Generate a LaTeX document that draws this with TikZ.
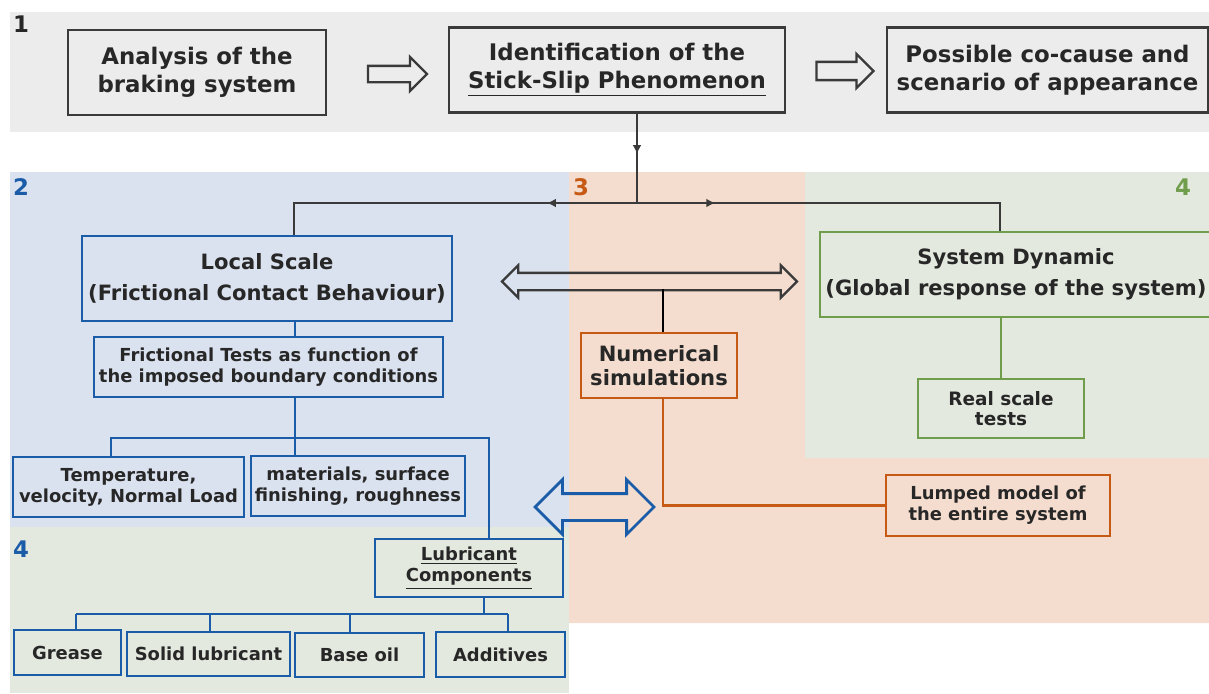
\documentclass[tikz,border=0pt]{standalone}
\usepackage{fontspec}
\setmainfont{DejaVu Sans}
\usetikzlibrary{shapes.arrows,arrows.meta,decorations.markings}
\definecolor{txt}{HTML}{272727}
\definecolor{boxgray}{HTML}{3A3A3A}
\definecolor{bluec}{HTML}{1B5CA8}
\definecolor{orangec}{HTML}{C65A14}
\definecolor{greenc}{HTML}{6F9D4C}
\definecolor{panelgray}{HTML}{ECECEC}
\definecolor{panelblue}{HTML}{DBE2EF}
\definecolor{panelorange}{HTML}{F4DDCE}
\definecolor{panelgreen}{HTML}{E3E9DF}
\begin{document}
\begin{tikzpicture}[x=0.02cm, y=-0.02cm,
  every node/.style={text=txt, align=center, inner sep=0pt},
  topbox/.style={draw=boxgray, line width=1.5pt, minimum height=1.7cm, font=\fontsize{13}{16}\selectfont\bfseries},
  midfont/.style={font=\fontsize{12}{17.5}\selectfont\bfseries},
  smallfont/.style={font=\fontsize{10.2}{12}\selectfont\bfseries},
  bluebox/.style={draw=bluec, line width=1.5pt},
  orangebox/.style={draw=orangec, line width=1.5pt},
  greenbox/.style={draw=greenc, line width=1.5pt},
  numlabel/.style={font=\fontsize{13}{13}\selectfont\bfseries},
  hollow/.style={draw=boxgray, line width=1.3pt, inner sep=0pt},
  conn/.style={draw=boxgray, line width=1.1pt},
  bluelink/.style={draw=bluec, line width=1.5pt},
  orangelink/.style={draw=orangec, line width=1.5pt},
  greenlink/.style={draw=greenc, line width=1.5pt},
  midtip/.style={decoration={markings, mark=at position #1 with {\arrow{Latex[length=5pt,width=5pt]}}}, postaction={decorate}}]
  \useasboundingbox (0,0) rectangle (1209,693);

  % Panels
  \fill[panelgray] (10,12) rectangle (1209,132);
  \fill[panelblue] (10,172) rectangle (569,527);
  \fill[panelgreen] (10,527) rectangle (569,693);
  \fill[panelorange] (569,172) -- (805,172) -- (805,458) -- (1209,458) -- (1209,623) -- (569,623) -- cycle;
  \fill[panelgreen] (805,172) rectangle (1209,458);

  \node[numlabel] (n1) at (21,24) {1};
  \node[numlabel, text=bluec] (n2) at (21,187) {2};
  \node[numlabel, text=orangec] (n3) at (581,187) {3};
  \node[numlabel, text=greenc] (n4) at (1183,187) {4};
  \node[numlabel, text=bluec] (n4b) at (21,549) {4};

  % Top row
  \node[topbox, minimum width=5.16cm] (ana) at (197,72.5) {Analysis of the\\braking system};
  \node[topbox, minimum width=6.72cm] (ident) at (617,70) {Identification of the\\\underline{Stick-Slip Phenomenon}};
  \node[topbox, minimum width=6.42cm] (poss) at (1047.5,70) {Possible co-cause and\\scenario of appearance};
  \node[hollow, single arrow, minimum height=1.18cm, inner ysep=0.14cm, single arrow head extend=0.18cm] (a1) at (393.5,74) {};
  \node[hollow, single arrow, minimum height=1.14cm, inner ysep=0.16cm, single arrow head extend=0.16cm] (a2) at (840.5,71) {};

  % Scales
  \node[bluebox, midfont, minimum width=7.4cm, minimum height=1.7cm] (local) at (267,278.5) {Local Scale\\(Frictional Contact Behaviour)};
  \node[greenbox, midfont, minimum width=7.84cm, minimum height=1.7cm] (sysdyn) at (1016,274.5) {System Dynamic\\(Global response of the system)};
  \node[hollow, double arrow, minimum height=5.9cm, inner ysep=0.15cm, double arrow head extend=0.15cm] (dblarr) at (649.5,281.5) {};

  \coordinate (junc) at (637,203);
  \coordinate (lx) at (294,203);
  \coordinate (rx) at (1000,203);
  \draw[conn, midtip=0.45] (ident.south -| junc) -- (junc);
  \draw[conn, midtip=0.24] (junc) -- (lx) -- (lx |- local.north);
  \draw[conn, midtip=0.2] (junc) -- (rx) -- (rx |- sysdyn.north);

  % Numerical branch
  \node[orangebox, font=\fontsize{12}{13.5}\selectfont\bfseries, minimum width=3.12cm, minimum height=1.3cm] (numsim) at (659,365.5) {Numerical\\simulations};
  \node[orangebox, smallfont, minimum width=4.48cm, minimum height=1.22cm] (lumped) at (998,505.5) {Lumped model of\\the entire system};
  \coordinate (nsx) at (663,289);
  \draw[conn, draw=black] (nsx) -- (nsx |- numsim.north);
  \draw[orangelink] (numsim.south -| nsx) |- (lumped.west);

  % Real scale
  \node[greenbox, smallfont, font=\fontsize{10.5}{11.5}\selectfont\bfseries, minimum width=3.32cm, minimum height=1.18cm] (real) at (1001,408.5) {Real scale\\tests};
  \draw[greenlink] (real.north |- sysdyn.south) -- (real.north);

  % Local scale tree
  \node[bluebox, smallfont, minimum width=6.98cm, minimum height=1.2cm] (fric) at (268.5,367) {Frictional Tests as function of\\the imposed boundary conditions};
  \node[bluebox, smallfont, minimum width=4.62cm, minimum height=1.2cm] (temp) at (128.5,487) {Temperature,\\velocity, Normal Load};
  \node[bluebox, smallfont, minimum width=4.28cm, minimum height=1.2cm] (mat) at (358,486) {materials, surface\\finishing, roughness};
  \node[bluebox, smallfont, minimum width=3.76cm, minimum height=1.16cm] (lubr) at (469,568) {\underline{Lubricant}\\\underline{Components}};
  \node[hollow, draw=bluec, line width=1.6pt, double arrow, minimum height=2.38cm, inner ysep=0.24cm, double arrow head extend=0.28cm] (bluearr) at (594.5,507) {};

  \coordinate (bl) at (111,438);
  \coordinate (bm) at (295,438);
  \coordinate (br) at (489,438);
  \draw[bluelink] (local.south -| bm) -- (fric.north -| bm);
  \draw[bluelink] (fric.south -| bm) -- (bm) -- (bm |- mat.north);
  \draw[bluelink] (bl |- temp.north) -- (bl) -- (br) -- (br |- lubr.north);

  % Lubricant components
  \node[bluebox, smallfont, minimum width=2.14cm, minimum height=0.9cm] (grease) at (67.5,652.5) {Grease};
  \node[bluebox, smallfont, minimum width=3.26cm, minimum height=0.88cm] (solid) at (208.5,654) {Solid lubricant};
  \node[bluebox, smallfont, minimum width=2.58cm, minimum height=0.88cm] (base) at (359.5,655) {Base oil};
  \node[bluebox, smallfont, minimum width=2.58cm, minimum height=0.9cm] (addit) at (500.5,654.5) {Additives};

  \coordinate (lb) at (484,614);
  \foreach \leaf/\lx in {grease/76,solid/210,base/350,addit/508} {
    \coordinate (d\leaf) at (\lx,614);
    \draw[bluelink] (d\leaf) -- (d\leaf |- \leaf.north);
  }
  \draw[bluelink] (dgrease) -- (daddit);
  \draw[bluelink] (lubr.south -| lb) -- (lb);
\end{tikzpicture}
\end{document}
